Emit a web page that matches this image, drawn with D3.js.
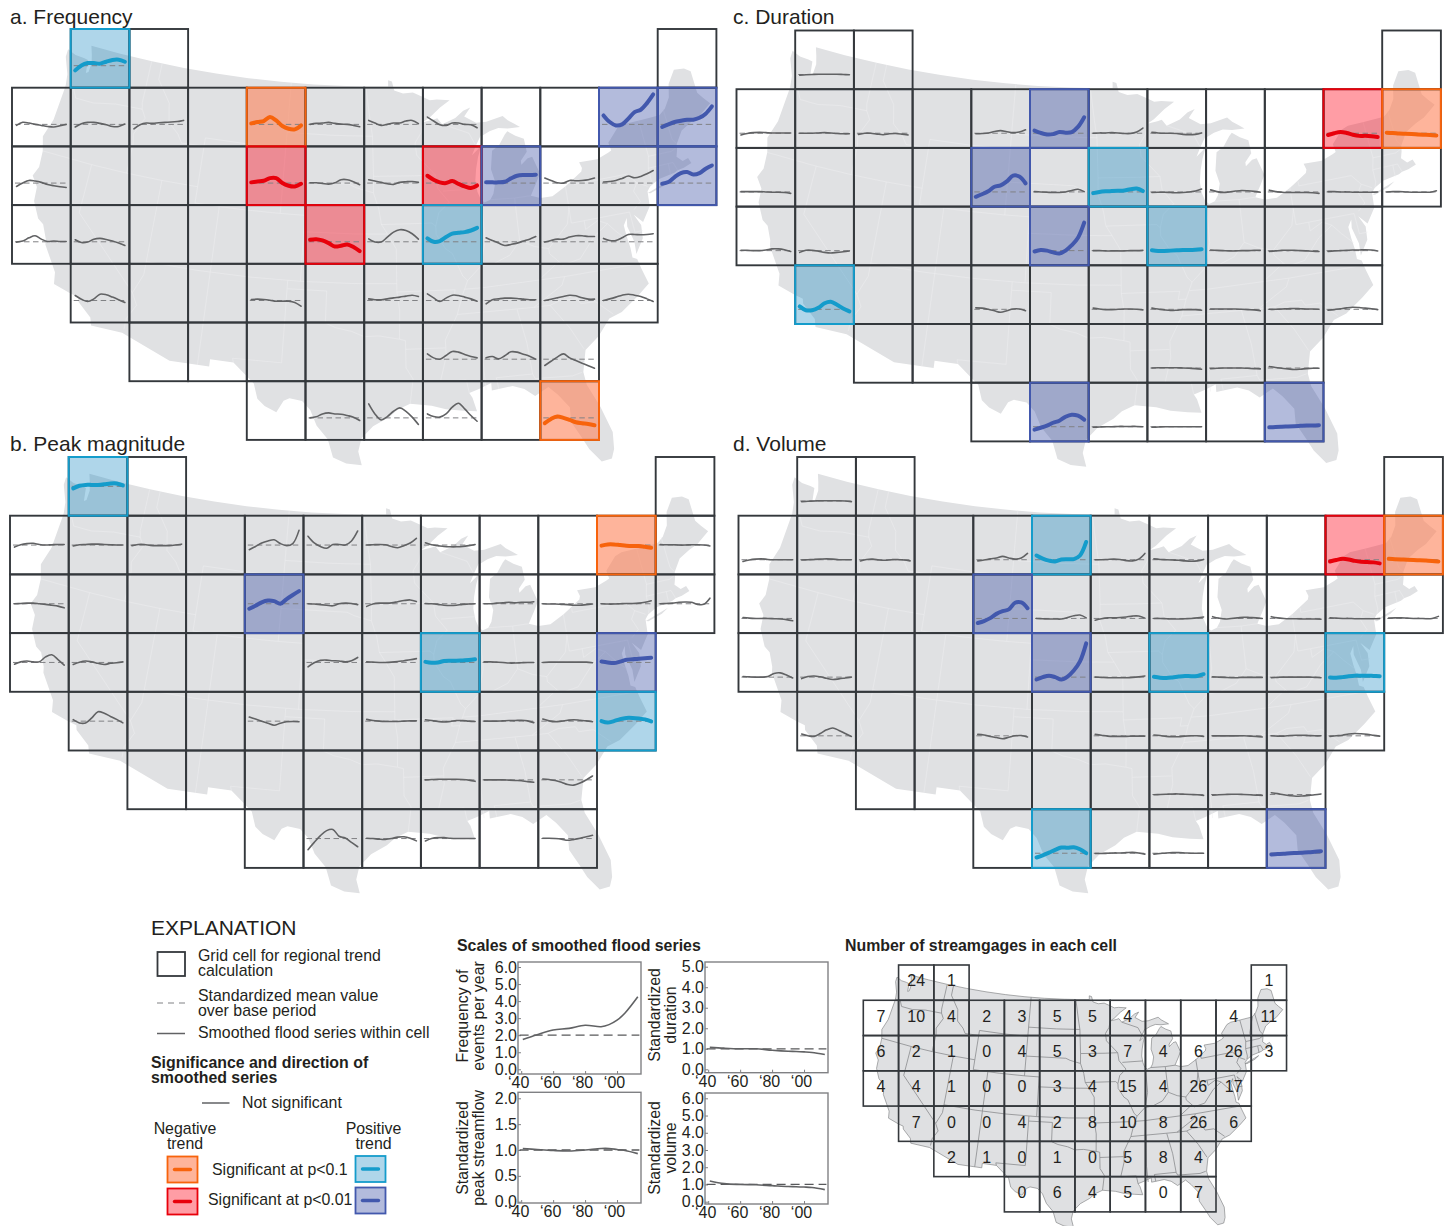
<!DOCTYPE html>
<html>
<head>
<meta charset="utf-8">
<script src="https://cdn.jsdelivr.net/npm/d3@7"></script>
<style>
body { margin: 0; background: #fff; }
svg { display: block; }
text { font-family: "Liberation Sans", Arial, sans-serif; fill: #231f20; }
</style>
</head>
<body>
<div id="content"></div>
<script>
// grid layout: which columns exist in each row
var gridRows = [
  [1, 2, 11],
  [0, 1, 2, 3, 4, 5, 6, 7, 8, 9, 10, 11],
  [0, 1, 2, 3, 4, 5, 6, 7, 8, 9, 10, 11],
  [0, 1, 2, 3, 4, 5, 6, 7, 8, 9, 10],
  [1, 2, 3, 4, 5, 6, 7, 8, 9, 10],
  [2, 3, 4, 5, 6, 7, 8, 9],
  [4, 5, 6, 7, 8, 9]
];

// number of streamgages, same order as gridRows (null = no label)
var gageCounts = [
  [24, 1, 1],
  [7, 10, 4, 2, 3, 5, 5, 4, null, null, 4, 11],
  [6, 2, 1, 0, 4, 5, 3, 7, 4, 6, 26, 3],
  [4, 4, 1, 0, 0, 3, 4, 15, 4, 26, 17],
  [7, 0, 0, 4, 2, 8, 10, 8, 26, 6],
  [2, 1, 0, 1, 0, 5, 8, 4],
  [0, 6, 4, 5, 0, 7]
];

// the sampled years of every small series
var seriesYears = [1941, 1950, 1959, 1968, 1977, 1986, 1995, 2004, 2013];

// a. Frequency (events per year)
var freqCells = ['0-1', '1-0', '1-1', '1-2', '1-4', '1-5', '1-6', '1-7', '1-10', '1-11',
  '2-0', '2-4', '2-5', '2-6', '2-7', '2-8', '2-9', '2-10', '2-11',
  '3-0', '3-1', '3-5', '3-6', '3-7', '3-8', '3-9', '3-10',
  '4-1', '4-4', '4-6', '4-7', '4-8', '4-9', '4-10',
  '5-7', '5-8', '5-9', '6-5', '6-6', '6-7', '6-9'];
var freqTrends = ['pos10', 'ns', 'ns', 'ns', 'neg10', 'ns', 'ns', 'ns', 'pos01', 'pos01',
  'ns', 'neg01', 'ns', 'ns', 'neg01', 'pos01', 'ns', 'ns', 'pos01',
  'ns', 'ns', 'neg01', 'ns', 'pos10', 'ns', 'ns', 'ns',
  'ns', 'ns', 'ns', 'ns', 'ns', 'ns', 'ns',
  'ns', 'ns', 'ns', 'ns', 'ns', 'ns', 'neg10'];
var freqSeries = [
  [1.68, 2.02, 2.18, 2.18, 2.14, 2.27, 2.39, 2.41, 2.27],
  [1.93, 2.14, 2.09, 2, 1.93, 1.86, 1.82, 1.91, 2],
  [1.82, 2.05, 2.14, 2.14, 2.07, 1.98, 1.86, 1.86, 2.02],
  [1.7, 1.98, 2.09, 2.07, 2.11, 2.14, 2.16, 2.2, 2.27],
  [2.07, 2.16, 2.23, 2.5, 2.27, 1.89, 1.7, 1.66, 1.93],
  [2, 2.07, 2.09, 2.14, 2.07, 2.02, 2, 1.93, 1.84],
  [2.27, 2.09, 1.93, 2, 2.09, 2.09, 2.23, 2.27, 2.05],
  [2.5, 2.23, 1.98, 1.93, 2.09, 2.09, 2, 1.98, 1.77],
  [2.61, 2.16, 1.93, 2, 2.39, 2.84, 3, 3.45, 4.04],
  [1.82, 2, 2.16, 2.25, 2.32, 2.32, 2.45, 2.73, 3.23],
  [1.77, 2, 2.18, 2.14, 2.05, 1.91, 1.82, 1.75, 1.7],
  [2.05, 2.11, 2.16, 2.34, 2.34, 2, 1.82, 1.77, 1.95],
  [2.02, 2.02, 1.98, 1.93, 2.02, 2.23, 2.23, 2.09, 1.89],
  [2.23, 2.14, 2.05, 1.95, 1.91, 2.05, 2.09, 2.11, 2.05],
  [2.5, 2.23, 2.05, 2, 2.14, 1.95, 1.77, 1.66, 1.84],
  [2.05, 2.05, 2.05, 2.09, 2.32, 2.5, 2.55, 2.55, 2.57],
  [2.34, 2.18, 2.02, 2, 2.18, 2.16, 2.18, 2.23, 2.34],
  [2.07, 2.11, 2.18, 2.32, 2.48, 2.36, 2.45, 2.64, 2.86],
  [1.95, 2.07, 2.41, 2.68, 2.75, 2.59, 2.68, 2.98, 3.2],
  [1.98, 2.05, 2.27, 2.41, 2.18, 2.02, 2.05, 2.02, 2.02],
  [2.14, 1.95, 1.98, 2.18, 2.23, 2.16, 2.05, 1.91, 1.75],
  [2.14, 2.18, 2.09, 1.91, 1.68, 1.73, 1.82, 1.64, 1.36],
  [2.2, 1.98, 1.98, 2.32, 2.66, 2.82, 2.77, 2.55, 2.18],
  [2.23, 2, 2.05, 2.32, 2.55, 2.61, 2.66, 2.77, 2.95],
  [2.27, 2.09, 1.91, 1.75, 1.82, 1.91, 2.05, 2.18, 2.36],
  [1.98, 2.09, 2.18, 2.18, 2.32, 2.41, 2.41, 2.36, 2.36],
  [2.23, 2.09, 2.09, 2.27, 2.5, 2.5, 2.48, 2.5, 2.55],
  [2.34, 2.09, 1.93, 2.11, 2.43, 2.39, 2.23, 2.05, 1.86],
  [2.07, 2.09, 2.07, 2.02, 1.95, 1.95, 1.95, 1.86, 1.61],
  [2.11, 2.05, 2.05, 2.11, 2.18, 2.23, 2.3, 2.36, 2.27],
  [2.45, 2.18, 1.93, 2.16, 2.36, 2.34, 2.23, 2.11, 1.95],
  [1.77, 2.05, 2.11, 2.16, 2.16, 2.14, 2.09, 2.05, 2.05],
  [2, 2.09, 2.18, 2.27, 2.36, 2.32, 2.18, 2.09, 2.09],
  [2, 2.11, 2.23, 2.36, 2.43, 2.36, 2.27, 2.11, 1.93],
  [2.36, 2.09, 2, 2.25, 2.52, 2.48, 2.32, 2.18, 2.09],
  [2.09, 2.18, 2.02, 2.23, 2.5, 2.48, 2.34, 2.2, 2],
  [1.57, 1.86, 2.14, 2.36, 2.09, 1.91, 1.73, 1.55, 1.39],
  [2, 2.07, 2.27, 2.34, 2.27, 2.25, 2.16, 2.05, 1.82],
  [2.95, 2.27, 1.86, 2.09, 2.45, 2.68, 2.45, 2.05, 1.55],
  [2.27, 2.09, 2.05, 2.27, 2.73, 3, 2.61, 2.16, 1.77],
  [1.64, 1.93, 2.09, 2, 1.86, 1.7, 1.64, 1.59, 1.5]
];

// b. Peak magnitude (standardized)
var peakCells = ['0-1', '1-0', '1-1', '1-2', '1-4', '1-5', '1-6', '1-7', '1-10', '1-11',
  '2-0', '2-4', '2-5', '2-6', '2-7', '2-8', '2-9', '2-10', '2-11',
  '3-0', '3-1', '3-5', '3-6', '3-7', '3-8', '3-9', '3-10',
  '4-1', '4-4', '4-6', '4-7', '4-8', '4-9', '4-10',
  '5-7', '5-8', '5-9', '6-5', '6-6', '6-7', '6-9'];
var peakTrends = ['pos10', 'ns', 'ns', 'ns', 'ns', 'ns', 'ns', 'ns', 'neg10', 'ns',
  'ns', 'pos01', 'ns', 'ns', 'ns', 'ns', 'ns', 'ns', 'ns',
  'ns', 'ns', 'ns', 'ns', 'pos10', 'ns', 'ns', 'pos01',
  'ns', 'ns', 'ns', 'ns', 'ns', 'ns', 'pos10',
  'ns', 'ns', 'ns', 'ns', 'ns', 'ns', 'ns'];
var peakSeries = [
  [.93, 1.02, 1.05, 1.05, 1.05, 1.07, 1.1, 1.1, 1.03],
  [.93, 1.01, 1.05, 1.06, 1.02, 1, 1.01, 1.02, 1.02],
  [.97, 1.01, 1.02, 1.03, 1.03, 1.02, 1.01, 1, 1],
  [.98, 1.02, 1.02, .99, .98, .98, .98, 1, 1.03],
  [.84, .95, 1.07, 1.14, 1.18, 1.05, .98, 1.05, 1.5],
  [1.3, 1.07, .95, .89, 1.02, 1.02, 1, 1.14, 1.48],
  [1, 1.01, 1.02, 1.01, .95, .91, .98, 1.07, 1.23],
  [1.08, 1.01, .98, .95, .94, .94, .95, .98, 1.02],
  [.98, 1.02, 1.02, 1, .98, .97, .97, .94, .91],
  [1.02, 1.01, 1.01, 1, 1, 1.01, 1.01, 1, .97],
  [1, 1.01, 1.02, 1.02, 1, .98, .95, .92, .86],
  [.83, .93, 1.05, 1.11, 1.09, 1, 1.16, 1.3, 1.43],
  [1, .99, .97, .95, .93, 1, 1.02, 1.01, .97],
  [.91, .99, 1.02, 1.02, 1.03, 1.07, 1.11, 1.13, 1.08],
  [1.01, 1, .98, .95, .94, .95, .98, .99, 1],
  [1, 1, 1.02, 1.03, 1.05, 1.03, 1.05, 1.05, 1.07],
  [1, .99, .99, .98, .97, .95, .95, .97, .99],
  [1, .99, .99, 1, 1.01, 1.01, 1.02, 1.05, 1.1],
  [1, 1.01, 1.02, 1.05, 1.06, 1.05, .98, .98, 1.19],
  [.94, 1.02, 1.05, 1.02, 1.02, 1.19, 1.26, 1.1, .91],
  [.93, 1.01, 1.05, 1.02, .97, .93, .97, .99, 1.02],
  [.85, .99, 1.07, 1.08, 1.06, 1.05, 1.02, 1.06, 1.17],
  [1.02, 1.01, 1, 1, 1.01, 1.03, 1.06, 1.09, 1.13],
  [1.02, .99, 1, 1.05, 1.06, 1.06, 1.07, 1.08, 1.11],
  [1.02, 1.02, 1.01, 1, .98, .98, .99, 1, 1],
  [1, 1.01, 1.01, 1.01, 1.01, 1.01, 1.01, 1.01, .99],
  [1.03, 1, .98, 1.03, 1.09, 1.11, 1.13, 1.14, 1.16],
  [1.05, .94, .94, 1.11, 1.32, 1.27, 1.16, 1.06, .94],
  [1.14, 1.07, 1, .93, .86, .93, .98, .99, .98],
  [1.06, 1.02, 1, .99, .99, .99, 1, 1.01, 1.01],
  [1.05, 1.02, .99, .97, .99, 1.02, 1.02, 1, .99],
  [1, 1, 1, 1.01, 1.02, 1.02, 1.03, 1.01, .95],
  [1.07, 1.01, .98, 1, 1.03, 1.05, 1.03, 1.01, .98],
  [1, .95, 1, 1.07, 1.11, 1.11, 1.09, 1.06, .99],
  [1, 1.01, 1.02, 1.02, 1.02, 1.02, 1.01, .99, .95],
  [1, 1, 1, 1, .99, .98, .97, .94, .92],
  [1.03, 1.01, .98, .92, .84, .82, .89, 1, 1.13],
  [.62, .87, 1.1, 1.27, 1.31, 1.08, 1.02, .87, .72],
  [1.01, 1, .98, .97, 1, 1.05, 1.06, 1.01, .92],
  [.92, 1, 1.03, 1.03, 1.01, 1, 1, 1, 1],
  [1.01, 1.01, 1, .98, .94, .97, 1.01, 1.06, 1.11]
];

// c. Duration (standardized)
var durCells = ['0-1', '1-0', '1-1', '1-2', '1-4', '1-5', '1-6', '1-7', '1-10', '1-11',
  '2-0', '2-4', '2-5', '2-6', '2-7', '2-8', '2-9', '2-10', '2-11',
  '3-0', '3-1', '3-5', '3-6', '3-7', '3-8', '3-9', '3-10',
  '4-1', '4-4', '4-6', '4-7', '4-8', '4-9', '4-10',
  '5-7', '5-8', '5-9', '6-5', '6-6', '6-7', '6-9'];
var durTrends = ['ns', 'ns', 'ns', 'ns', 'ns', 'pos01', 'ns', 'ns', 'neg01', 'neg10',
  'ns', 'pos01', 'ns', 'pos10', 'ns', 'ns', 'ns', 'ns', 'ns',
  'ns', 'ns', 'pos01', 'ns', 'pos10', 'ns', 'ns', 'ns',
  'pos10', 'ns', 'ns', 'ns', 'ns', 'ns', 'ns',
  'ns', 'ns', 'ns', 'pos01', 'ns', 'ns', 'pos01'];
var durSeries = [
  [.96, .98, 1, 1.02, 1.02, 1.02, 1.02, 1, .98],
  [.88, .98, 1.04, 1.06, 1.04, 1.02, 1.02, 1.02, 1.02],
  [1, 1, 1, 1.02, 1.04, 1.02, .98, .96, .96],
  [.92, 1, 1, .94, .9, .96, .98, .94, .88],
  [.96, .98, 1.02, 1.12, 1.18, 1.1, 1.04, 1.08, 1.23],
  [1.18, 1.02, .92, .94, 1.08, 1.04, 1.08, 1.43, 2.09],
  [1, 1.02, 1.02, 1.04, 1.02, .98, .98, 1.08, 1.35],
  [1.06, 1.02, 1, 1, .98, .92, .9, .92, 1.02],
  [.88, 1, 1.08, 1.02, .9, .82, .82, .8, .75],
  [1.04, 1.02, .98, .96, .94, .92, .9, .88, .84],
  [1.02, 1.02, 1.02, 1.02, 1, .98, .98, .96, .9],
  [.67, .84, 1.04, 1.35, 1.45, 1.72, 2.11, 2.05, 1.59],
  [1.02, 1, .98, .96, .96, 1, 1.1, 1.18, 1.02],
  [.92, 1, 1.04, 1.06, 1.08, 1.1, 1.18, 1.23, 1.06],
  [.96, .98, .98, .96, .94, .96, 1, 1.06, 1.2],
  [1.14, 1.02, .96, 1, 1.06, 1.1, 1.08, 1.04, .98],
  [1.12, 1.02, .98, .96, .96, .96, .96, .94, .9],
  [1.02, 1.02, 1, 1, .98, .98, .98, .98, 1],
  [1, 1.02, 1.02, 1, .98, .98, .98, .98, 1.08],
  [1.02, 1.02, 1, 1, 1.04, 1.12, 1.12, 1.06, .94],
  [.88, 1.02, 1.02, .96, .88, .84, .88, .92, .98],
  [.94, 1.04, 1, .88, .8, 1, 1.37, 1.88, 2.91],
  [1, 1, .98, .98, .98, .98, 1, 1, 1.02],
  [1.02, .98, .98, 1, 1.02, 1.04, 1.04, 1.06, 1.1],
  [1.04, 1.02, 1, .98, .98, 1, 1, 1.02, 1.02],
  [.94, .98, 1.02, 1.02, 1.02, 1, .98, .96, .94],
  [.94, .98, 1, 1.02, 1.04, 1.04, 1.06, 1.04, .98],
  [1.2, .94, .94, 1.1, 1.41, 1.51, 1.31, 1.06, .86],
  [1.1, 1.08, 1, .9, .8, .9, 1.02, 1.02, .9],
  [1.08, 1.02, .98, .98, 1, 1.02, 1.02, 1, .96],
  [1.08, 1.02, .96, .92, .94, .98, .98, .98, .94],
  [1.02, 1.02, 1.02, 1.02, 1.02, 1, .98, .96, .9],
  [1, 1, 1.02, 1.04, 1.06, 1.04, 1.02, 1.02, 1],
  [.94, .98, 1.04, 1.1, 1.14, 1.12, 1.08, 1.04, .98],
  [1, 1.02, 1.02, 1.02, 1.02, 1, .98, .96, .92],
  [.96, .98, 1, 1, 1, 1, .98, .96, .94],
  [1.1, 1.04, .98, .94, .9, .92, .96, .98, .98],
  [.8, .93, 1.07, 1.27, 1.41, 1.68, 1.82, 1.75, 1.48],
  [.96, .98, 1, 1, 1.02, 1.02, 1.02, 1.02, 1],
  [.96, .98, 1, 1, 1, 1, 1, 1, 1],
  [.96, .98, 1, 1.02, 1.04, 1.06, 1.08, 1.08, 1.1]
];

// d. Volume (standardized)
var volCells = ['0-1', '1-0', '1-1', '1-2', '1-4', '1-5', '1-6', '1-7', '1-10', '1-11',
  '2-0', '2-4', '2-5', '2-6', '2-7', '2-8', '2-9', '2-10', '2-11',
  '3-0', '3-1', '3-5', '3-6', '3-7', '3-8', '3-9', '3-10',
  '4-1', '4-4', '4-6', '4-7', '4-8', '4-9', '4-10',
  '5-7', '5-8', '5-9', '6-5', '6-6', '6-7', '6-9'];
var volTrends = ['ns', 'ns', 'ns', 'ns', 'ns', 'pos10', 'ns', 'ns', 'neg01', 'neg10',
  'ns', 'pos01', 'ns', 'ns', 'ns', 'ns', 'ns', 'ns', 'ns',
  'ns', 'ns', 'pos01', 'ns', 'pos10', 'ns', 'ns', 'pos10',
  'ns', 'ns', 'ns', 'ns', 'ns', 'ns', 'ns',
  'ns', 'ns', 'ns', 'pos10', 'ns', 'ns', 'pos01'];
var volSeries = [
  [.96, .98, 1, 1.02, 1.02, 1.02, 1.02, 1, .96],
  [.88, .98, 1.04, 1.06, 1.02, 1, 1, 1, 1],
  [.98, 1, 1.02, 1.04, 1.06, 1.04, 1, 1, 1],
  [.92, 1.02, 1.04, .98, .96, 1, 1.02, .98, .92],
  [.92, .98, 1.06, 1.12, 1.23, 1.12, 1.04, 1.12, 1.43],
  [1.29, 1.08, .94, .88, 1.02, 1.04, 1.04, 1.29, 2.21],
  [1, 1, 1.02, 1.04, 1.02, .94, .92, 1.04, 1.43],
  [1.06, 1.02, 1, .98, .96, .92, .9, .92, 1.02],
  [.88, .98, 1.06, 1.02, .92, .86, .84, .82, .75],
  [1.06, 1.04, 1.02, 1, .98, .96, .94, .92, .88],
  [1.06, 1.02, 1, 1, 1, .98, .96, .92, .84],
  [.69, .82, 1.02, 1.31, 1.49, 1.62, 2.07, 2.09, 1.7],
  [1, .98, .96, .96, .96, 1.06, 1.18, 1.23, 1.04],
  [.88, .98, 1.04, 1.04, 1.06, 1.1, 1.16, 1.16, 1.02],
  [1, 1, .98, .96, .96, .98, 1, 1.04, 1.1],
  [1.12, 1.02, .96, 1, 1.04, 1.08, 1.06, 1.04, 1],
  [1.12, 1.04, 1, .98, .98, .96, .96, .96, .94],
  [1.04, 1.02, 1, 1, .98, .98, .98, .98, 1],
  [1.02, 1.04, 1.04, 1.02, 1, 1, .98, 1, 1.14],
  [1.04, 1.02, 1, 1, 1.04, 1.25, 1.29, 1.14, .94],
  [.9, 1.04, 1.08, 1.02, .92, .84, .88, .94, 1],
  [.84, 1, 1.1, 1, .84, 1.04, 1.45, 2.07, 3.3],
  [1, .98, .96, .96, .96, .96, .98, 1.02, 1.08],
  [1.02, .96, .94, .98, 1.04, 1.08, 1.06, 1.08, 1.2],
  [1.02, 1, .98, .96, .96, .98, .98, .98, .98],
  [.96, .98, 1, 1, 1, 1, 1, .98, .96],
  [.98, .96, 1, 1.06, 1.1, 1.1, 1.1, 1.08, 1.06],
  [1.12, 1, .96, 1.16, 1.41, 1.53, 1.37, 1.16, .96],
  [1.1, 1.06, .96, .88, .8, .9, 1, 1.02, .92],
  [1.1, 1.04, .98, .96, .96, .96, .98, .98, .98],
  [1.06, 1.02, .96, .94, .94, .98, 1, 1, .96],
  [1, 1, 1, 1, 1, 1, .98, .96, .92],
  [1, .98, .98, 1.02, 1.04, 1.04, 1.02, 1, 1],
  [.96, 1, 1.04, 1.12, 1.16, 1.14, 1.1, 1.04, .98],
  [.98, 1, 1.02, 1.04, 1.04, 1.02, 1, .98, .94],
  [.96, .98, 1, 1.02, 1.02, 1, .98, .96, .94],
  [1.12, 1.06, .98, .92, .88, .9, .94, .98, 1.04],
  [.71, .86, 1.04, 1.23, 1.39, 1.37, 1.41, 1.27, 1],
  [.98, .98, 1, 1.02, 1.02, 1.04, 1.06, 1.02, .94],
  [.94, .98, 1.02, 1.04, 1.04, 1.02, 1, 1, 1],
  [.92, .94, .96, 1, 1.02, 1.04, 1.06, 1.1, 1.14]
];

// scale charts under "Scales of smoothed flood series"
var scaleYears = [1941, 1950, 1960, 1970, 1980, 1990, 1995, 2000, 2005, 2013];
var scaleFreq = [1.75, 2.03, 2.3, 2.4, 2.58, 2.5, 2.62, 2.88, 3.3, 4.25];
var scaleDur = [1.07, 1.03, 1, 1, .93, .88, .87, .85, .82, .72];
var scalePeak = [1.03, 1.01, .99, .98, 1, 1.03, 1.03, 1.01, .99, .93];
var scaleVol = [1.2, 1.05, 1, .98, .93, .88, .87, .85, .82, .7];
var scaleXTicks = [1940, 1960, 1980, 2000];

// lower 48 outline, lon/lat, clockwise from Cape Flattery
var usOutline = [
  [-124.7, 48.38], [-123.9, 48.17], [-123.1, 48.15], [-122.7, 48.1], [-122.55, 47.3], [-122.35, 47.4], [-122.3, 48], [-122.5, 48.5], [-122.75, 49],
  [-120, 49], [-117, 49], [-114, 49], [-111, 49], [-108, 49], [-105, 49], [-102, 49], [-99, 49], [-97.2, 49], [-95.15, 49], [-95.15, 49.38],
  [-94.8, 49.3], [-94.6, 48.75], [-93.8, 48.55], [-92.9, 48.6], [-92, 48.3], [-91.4, 48.07], [-90.75, 48.1], [-89.6, 48],
  [-90.5, 47.6], [-91.5, 47], [-92.1, 46.75], [-91.2, 46.87], [-90.8, 46.95], [-90.4, 46.57], [-89.2, 46.9], [-88.45, 47.3], [-87.8, 47.47],
  [-88.4, 46.95], [-87.4, 46.5], [-86.5, 46.5], [-85, 46.75], [-84.6, 46.45], [-84.1, 46.2], [-83.6, 45.95], [-84.7, 45.95], [-85.5, 46.05],
  [-86.3, 45.9], [-86.9, 45.7], [-87.1, 45.7], [-87.6, 45.1], [-88, 44.55], [-87.4, 44.9], [-87.05, 45.25], [-87.5, 44.4], [-87.75, 43.7],
  [-87.9, 43], [-87.8, 42.3], [-87.6, 41.85], [-87.3, 41.62], [-86.8, 41.75], [-86.5, 42.1], [-86.25, 42.8], [-86.5, 43.6], [-86.25, 44.7],
  [-85.6, 45], [-85, 45.6], [-84.75, 45.78], [-84.1, 45.45], [-83.4, 45.2], [-83.3, 44.4], [-83.9, 43.9], [-83.9, 43.65], [-83.3, 44], [-82.9, 44.05],
  [-82.45, 43], [-82.9, 42.4], [-83.15, 42.1], [-83.45, 41.72], [-82.7, 41.5], [-81.7, 41.5], [-80.5, 41.97], [-79, 42.7], [-78.9, 42.9], [-79.05, 43.27],
  [-77.5, 43.25], [-76.5, 43.5], [-76.2, 43.6], [-76.3, 44.1], [-75.3, 44.85], [-74.7, 45], [-73.3, 45], [-71.5, 45], [-70.9, 45.3], [-70.3, 45.9],
  [-70, 46.7], [-69.2, 47.45], [-68.3, 47.35], [-67.8, 47.07], [-67.8, 45.7], [-67.45, 45.3], [-67, 44.85], [-68.2, 44.3], [-69, 44.1], [-70, 43.75],
  [-70.7, 43.05], [-70.8, 42.7], [-71, 42.3], [-70.6, 41.95], [-70.1, 42.05], [-69.95, 41.7], [-70.65, 41.55], [-71.2, 41.5], [-71.5, 41.4], [-72.9, 41.25],
  [-73.7, 40.95], [-74, 40.7], [-74.1, 39.8], [-74.9, 38.95], [-75.5, 39.5], [-75.1, 38.8], [-75.2, 38], [-75.95, 37.15], [-75.9, 37.9], [-76.2, 38.9],
  [-76.1, 39.4], [-76.45, 39], [-76.4, 38.3], [-76.3, 37.6], [-76.3, 37], [-75.97, 36.85], [-75.8, 36.2], [-75.5, 35.25], [-76.5, 34.65], [-77.9, 33.9],
  [-78.9, 33.65], [-79.9, 32.7], [-81, 32], [-81.4, 30.7], [-81.3, 29.9], [-80.6, 28.45], [-80.05, 26.8], [-80.15, 25.75], [-80.4, 25.2], [-81.1, 25.12],
  [-81.8, 26], [-82.2, 26.8], [-82.75, 27.8], [-82.7, 28.7], [-83.4, 29.55], [-84, 30.1], [-85, 29.65], [-85.7, 30.15], [-86.5, 30.4], [-88, 30.25],
  [-88, 30.7], [-88.9, 30.4], [-89.6, 30.2], [-89.4, 29.9], [-89.15, 29.05], [-90.1, 29.15], [-91.3, 29.3], [-92.3, 29.55], [-93.8, 29.7], [-94.7, 29.35],
  [-95.3, 28.9], [-96.4, 28.35], [-97.2, 27.6], [-97.4, 26.8], [-97.15, 25.95], [-98.2, 26.05], [-99.1, 26.4], [-99.5, 27.5], [-100.3, 28.3], [-100.8, 29.25],
  [-101.4, 29.77], [-102.3, 29.88], [-102.7, 29.7], [-103.15, 28.98], [-104, 29.3], [-104.55, 29.7], [-104.9, 30.6], [-106.5, 31.75], [-108.2, 31.78], [-108.2, 31.33],
  [-111.07, 31.33], [-114.8, 32.5], [-117.12, 32.53], [-117.3, 33], [-118.4, 33.75], [-118.5, 34.03], [-119.2, 34.15], [-120.5, 34.45], [-120.65, 35.15], [-121.9, 36.6],
  [-122, 36.95], [-122.5, 37.75], [-123, 38], [-123.7, 38.95], [-123.8, 39.8], [-124.4, 40.4], [-124.1, 41], [-124.2, 42], [-124.55, 42.85], [-124.1, 44],
  [-123.95, 46.2], [-124.1, 46.9], [-124.7, 47.9], [-124.7, 48.38]
];
var longIsland = [[-74, 40.6], [-72, 41.05], [-72.6, 40.8], [-73.8, 40.55], [-74, 40.6]];

// state boundaries, rough
var stateLines = [
  [[-124, 46.2], [-123.2, 46.15], [-122.8, 45.65], [-121.2, 45.65], [-119.3, 45.93], [-116.92, 46]],
  [[-117.03, 49], [-117.04, 46.4], [-116.92, 46], [-116.5, 45.5], [-117.2, 44.4], [-117.03, 43.8], [-117.03, 42]],
  [[-124.2, 42], [-120, 42], [-117.03, 42], [-114.05, 42], [-111.05, 42]],
  [[-120, 42], [-120, 39], [-114.63, 35], [-114.15, 34.3], [-114.7, 33.4], [-114.72, 32.72]],
  [[-114.63, 35], [-114.05, 36.2], [-114.05, 42]],
  [[-116.05, 49], [-116.05, 48], [-114.7, 46.7], [-114.4, 45.55], [-113.45, 44.95], [-113, 44.45], [-111.05, 44.5]],
  [[-111.05, 45], [-107.5, 45], [-104.05, 45]],
  [[-111.05, 45], [-111.05, 41], [-107.5, 41], [-104.05, 41], [-102.05, 41]],
  [[-109.05, 41], [-109.05, 37], [-109.05, 31.33]],
  [[-114.05, 37], [-110, 37], [-106, 37], [-102.04, 37], [-98, 37], [-94.62, 37]],
  [[-102.05, 41], [-102.05, 37]],
  [[-103.04, 37], [-103.04, 32], [-106.6, 32], [-106.5, 31.75]],
  [[-103, 36.5], [-100, 36.5], [-100, 34.56], [-99.2, 34.3], [-98, 34.1], [-97.1, 33.8], [-96, 33.85], [-94.48, 33.64]],
  [[-102.05, 40], [-98, 40], [-95.3, 40]],
  [[-104.05, 43], [-98.5, 43], [-97.9, 42.8], [-96.45, 42.5]],
  [[-104.05, 45.94], [-100, 45.94], [-96.56, 45.94]],
  [[-104.05, 49], [-104.05, 41]],
  [[-97.2, 49], [-96.8, 47], [-96.56, 45.94], [-96.45, 43.5], [-96.45, 42.5], [-96, 41.5], [-95.8, 40.6], [-95.3, 40], [-94.62, 39.1], [-94.62, 36.5]],
  [[-96.45, 43.5], [-93, 43.5], [-91.22, 43.5]],
  [[-95.8, 40.58], [-91.7, 40.6], [-91.4, 40.4]],
  [[-92.1, 46.75], [-92.3, 46.1], [-92.85, 45.5], [-92.75, 44.75], [-91.22, 43.5], [-91.1, 42.7], [-90.2, 41.8], [-91.1, 41.2], [-91.4, 40.4], [-91.4, 39.9], [-90.7, 39], [-90.2, 38.7], [-89.5, 37.3], [-89.15, 37], [-89.7, 36], [-90.1, 35], [-91.1, 33.5], [-91.1, 32.5], [-91.6, 31], [-89.75, 31], [-89.6, 30.2]],
  [[-94.04, 33.02], [-94.04, 31.9], [-93.55, 31.2], [-93.8, 29.7]],
  [[-94.04, 33.02], [-91.15, 33.02]],
  [[-94.48, 33.64], [-94.04, 33.55], [-94.04, 33.02]],
  [[-94.48, 33.64], [-94.43, 35.4], [-94.62, 36.5], [-90.15, 36.5], [-90.3, 36], [-89.7, 36]],
  [[-90.4, 46.57], [-88.1, 45.9], [-87.6, 45.1]],
  [[-90.65, 42.5], [-87.8, 42.5]],
  [[-87.53, 41.7], [-87.53, 39.3], [-88.05, 37.8]],
  [[-84.8, 41.7], [-84.8, 39.1]],
  [[-86.8, 41.76], [-84.8, 41.7], [-83.45, 41.72]],
  [[-89.15, 37], [-88.05, 37.8], [-87, 37.9], [-85.7, 38.3], [-84.8, 39.1], [-83.7, 38.65], [-82.6, 38.4], [-81.8, 39], [-80.85, 39.7], [-80.52, 40.64], [-80.52, 42]],
  [[-79.76, 42.27], [-79.76, 42], [-75.35, 42], [-74.7, 41.36], [-73.9, 41]],
  [[-80.52, 39.72], [-75.78, 39.72]],
  [[-80.52, 39.72], [-80.52, 40.64]],
  [[-74.7, 41.36], [-75.1, 40.9], [-74.75, 40.2], [-75.4, 39.8]],
  [[-75.78, 39.72], [-75.7, 38.46], [-75.05, 38.45]],
  [[-76.3, 38], [-77.1, 38.7], [-77.7, 39.3], [-78.4, 39.6], [-79.48, 39.2], [-79.48, 39.72]],
  [[-77.7, 39.3], [-78.9, 38.7], [-80.3, 37.5], [-81.7, 37.3], [-82.6, 38.1], [-82.6, 38.4]],
  [[-81.97, 37.54], [-83.68, 36.6]],
  [[-75.9, 36.55], [-81.7, 36.59], [-83.68, 36.6], [-88.07, 36.5], [-89.4, 36.5]],
  [[-81.7, 36.59], [-82, 36.1], [-84.32, 35]],
  [[-90.1, 35], [-84.32, 35], [-83.1, 35], [-82.3, 35.2], [-81, 35.15], [-80.8, 34.82], [-79.7, 34.8], [-78.55, 33.86]],
  [[-83.1, 35], [-81.9, 33.5], [-81.1, 32.1]],
  [[-81.5, 30.7], [-82.2, 30.57], [-84.86, 30.7]],
  [[-85.6, 35], [-85.15, 32.9], [-85, 31], [-84.86, 30.7]],
  [[-85, 31], [-87.6, 31], [-87.5, 30.3]],
  [[-88.2, 35], [-88.45, 31.9], [-88.4, 30.3]],
  [[-73.35, 45], [-73.25, 42.75], [-73.5, 42.05], [-73.5, 41.3], [-73.65, 41]],
  [[-71.5, 45], [-72.4, 43.5], [-72.46, 42.73]],
  [[-73.5, 42.05], [-71.4, 42.02], [-71.2, 41.5]],
  [[-73.27, 42.75], [-71.3, 42.7], [-70.8, 42.85]],
  [[-71.8, 42.02], [-71.85, 41.32]],
  [[-71.05, 45.3], [-70.98, 43.4], [-70.7, 43.05]]
];

var trendFill = { neg10: 'rgb(253,130,88)', neg01: 'rgb(255,10,30)', pos10: 'rgb(12,130,190)', pos01: 'rgb(50,71,161)' };
var trendOpacity = { neg10: 0.6, neg01: 0.4, pos10: 0.33, pos01: 0.37 };
var trendLine = { neg10: '#f7630c', neg01: '#e8000b', pos10: '#149ccb', pos01: '#4258ad' };
var gridColor = '#34383c';
var landColor = '#e0e1e3';
var seriesColor = '#616264';

var svg = d3.select('#content').append('svg').attr('width', 1449).attr('height', 1226);

var landShape = { type: 'MultiPolygon', coordinates: [[usOutline], [longIsland]] };
var stateShape = { type: 'MultiLineString', coordinates: stateLines };

// same projection everywhere, only the size and origin of the grid change
function makePath(x0, y0, cell) {
  var projection = d3.geoConicEqualArea()
    .parallels([29.5, 45.5])
    .rotate([96, 0])
    .center([0, 0])
    .scale(16 * cell)
    .translate([x0 + 6.25 * cell, y0 + 14.2 * cell]);
  return d3.geoPath(projection);
}

function drawPanel(title, x0, y0, titleX, titleY, cells, trends, series, domain, mean) {
  var cell = 58.7;
  var g = svg.append('g');
  var path = makePath(x0, y0, cell);

  g.append('path').datum(landShape).attr('d', path).attr('fill', landColor);
  g.append('path').datum(stateShape).attr('d', path).attr('fill', 'none')
    .attr('stroke', '#eeeff0').attr('stroke-width', 0.5);

  var colX = d3.scaleLinear().domain([0, 12]).range([x0, x0 + 12 * cell]);
  var rowY = d3.scaleLinear().domain([0, 7]).range([y0, y0 + 7 * cell]);

  var rows = cells.map(function(c, i) {
    var p = c.split('-');
    return { row: +p[0], col: +p[1], trend: trends[i], values: series[i] };
  });

  // tinted cells go under the grid
  g.selectAll('rect.fill').data(rows.filter(function(d) { return d.trend !== 'ns'; }))
    .enter().append('rect')
    .attr('x', function(d) { return colX(d.col); })
    .attr('y', function(d) { return rowY(d.row); })
    .attr('width', cell).attr('height', cell)
    .attr('fill', function(d) { return trendFill[d.trend]; })
    .attr('fill-opacity', function(d) { return trendOpacity[d.trend]; });

  gridRows.forEach(function(cols, r) {
    g.selectAll('rect.grid' + r).data(cols).enter().append('rect')
      .attr('x', function(c) { return colX(c); })
      .attr('y', rowY(r))
      .attr('width', cell).attr('height', cell)
      .attr('fill', 'none')
      .attr('stroke', gridColor).attr('stroke-width', 1.9);
  });

  g.selectAll('rect.edge').data(rows.filter(function(d) { return d.trend !== 'ns'; }))
    .enter().append('rect')
    .attr('x', function(d) { return colX(d.col); })
    .attr('y', function(d) { return rowY(d.row); })
    .attr('width', cell).attr('height', cell)
    .attr('fill', 'none')
    .attr('stroke', function(d) { return trendLine[d.trend]; })
    .attr('stroke-width', 2);

  rows.forEach(function(d) {
    var x = d3.scaleLinear().domain([seriesYears[0], seriesYears[8]])
      .range([colX(d.col) + 4.5, colX(d.col) + cell - 4.5]);
    var y = d3.scaleLinear().domain(domain).range([rowY(d.row) + cell, rowY(d.row)]);
    g.append('line')
      .attr('x1', colX(d.col) + 3).attr('x2', colX(d.col) + cell - 2)
      .attr('y1', y(mean)).attr('y2', y(mean))
      .attr('stroke', '#808184').attr('stroke-width', 1).attr('stroke-dasharray', '5.5,3.5');
    var line = d3.line()
      .x(function(v, i) { return x(seriesYears[i]); })
      .y(function(v) { return y(v); })
      .curve(d3.curveCatmullRom.alpha(0.5));
    g.append('path').attr('d', line(d.values)).attr('fill', 'none')
      .attr('stroke', d.trend === 'ns' ? seriesColor : trendLine[d.trend])
      .attr('stroke-width', d.trend === 'ns' ? 1.6 : 4)
      .attr('stroke-linecap', 'round').attr('stroke-linejoin', 'round');
  });

  svg.append('text').attr('x', titleX).attr('y', titleY).attr('font-size', 21).text(title);
}

drawPanel('a. Frequency', 12, 29, 10, 24, freqCells, freqTrends, freqSeries, [0.5, 4.5], 2);
drawPanel('b. Peak magnitude', 10, 457, 10, 451, peakCells, peakTrends, peakSeries, [0, 2], 1);
drawPanel('c. Duration', 736.5, 30.5, 733, 24, durCells, durTrends, durSeries, [0, 4], 1);
drawPanel('d. Volume', 738.5, 457, 733, 451, volCells, volTrends, volSeries, [0, 4], 1);

// explanation block
var legend = svg.append('g');
function label(x, y, str, size, bold, anchor) {
  legend.append('text').attr('x', x).attr('y', y).attr('font-size', size)
    .attr('font-weight', bold ? 'bold' : null)
    .attr('text-anchor', anchor || 'start').text(str);
}
label(151, 935, 'EXPLANATION', 21);
legend.append('rect').attr('x', 157.5).attr('y', 952).attr('width', 27.5).attr('height', 24)
  .attr('fill', 'none').attr('stroke', gridColor).attr('stroke-width', 1.8);
label(198, 961, 'Grid cell for regional trend', 15.9);
label(198, 976, 'calculation', 15.9);
legend.append('line').attr('x1', 157).attr('x2', 185).attr('y1', 1003).attr('y2', 1003)
  .attr('stroke', '#808184').attr('stroke-width', 1).attr('stroke-dasharray', '6,5');
label(198, 1001, 'Standardized mean value', 15.9);
label(198, 1016, 'over base period', 15.9);
legend.append('line').attr('x1', 157).attr('x2', 185).attr('y1', 1033.5).attr('y2', 1033.5)
  .attr('stroke', seriesColor).attr('stroke-width', 1.5);
label(198, 1038, 'Smoothed flood series within cell', 15.9);
label(151, 1068, 'Significance and direction of', 15.9, true);
label(151, 1083, 'smoothed series', 15.9, true);
legend.append('line').attr('x1', 202).attr('x2', 229.5).attr('y1', 1103).attr('y2', 1103)
  .attr('stroke', seriesColor).attr('stroke-width', 1.5);
label(242, 1108, 'Not significant', 15.9);
label(185, 1134, 'Negative', 15.9, false, 'middle');
label(185, 1149, 'trend', 15.9, false, 'middle');
label(373.5, 1134, 'Positive', 15.9, false, 'middle');
label(373.5, 1149, 'trend', 15.9, false, 'middle');
label(212, 1175, 'Significant at p<0.1', 15.9);
label(208, 1205, 'Significant at p<0.01', 15.9);

var swatches = [
  { x: 167.5, y: 1156.5, trend: 'neg10' },
  { x: 167.5, y: 1188.5, trend: 'neg01' },
  { x: 355.5, y: 1156, trend: 'pos10' },
  { x: 355.5, y: 1187.5, trend: 'pos01' }
];
swatches.forEach(function(s) {
  legend.append('rect').attr('x', s.x).attr('y', s.y).attr('width', 30).attr('height', 26)
    .attr('fill', trendFill[s.trend]).attr('fill-opacity', trendOpacity[s.trend])
    .attr('stroke', trendLine[s.trend]).attr('stroke-width', 1.8);
  legend.append('line').attr('x1', s.x + 7).attr('x2', s.x + 23)
    .attr('y1', s.y + 13).attr('y2', s.y + 13)
    .attr('stroke', trendLine[s.trend]).attr('stroke-width', 3.4).attr('stroke-linecap', 'round');
});

// small scale charts
label(457, 951, 'Scales of smoothed flood series', 15.9, true);

function drawScale(left, top, right, bottom, yTop, yBottom, maxY, ticks, mean, values, lines, labelX, labelY) {
  var g = svg.append('g');
  var x = d3.scaleLinear().domain([1938, 2015]).range([left, right]);
  var y = d3.scaleLinear().domain([0, maxY]).range([yBottom, yTop]);

  g.append('rect').attr('x', left).attr('y', top)
    .attr('width', right - left).attr('height', bottom - top)
    .attr('fill', '#fff').attr('stroke', '#808184').attr('stroke-width', 1.4);

  var yAxis = d3.axisLeft(y).tickValues(ticks).tickFormat(d3.format('.1f'))
    .tickSizeInner(-3).tickSizeOuter(0).tickPadding(1);
  var xAxis = d3.axisBottom(x).tickValues(scaleXTicks)
    .tickFormat(function(d) { return '\u2018' + d3.format('02')(d % 100); })
    .tickSizeInner(-3).tickSizeOuter(0).tickPadding(3);

  var ya = g.append('g').attr('transform', 'translate(' + left + ',0)').call(yAxis);
  var xa = g.append('g').attr('transform', 'translate(0,' + bottom + ')').call(xAxis);
  [ya, xa].forEach(function(a) {
    a.select('.domain').remove();
    a.selectAll('line').attr('stroke', '#808184');
    a.selectAll('text').attr('font-size', 16).attr('font-family', '"Liberation Sans", Arial, sans-serif').attr('fill', '#231f20');
  });
  xa.selectAll('text').attr('dx', -3);

  g.append('line').attr('x1', x(1939)).attr('x2', x(2014))
    .attr('y1', y(mean)).attr('y2', y(mean))
    .attr('stroke', '#58595b').attr('stroke-width', 1.3).attr('stroke-dasharray', '9,5');
  var line = d3.line()
    .x(function(v, i) { return x(scaleYears[i]); })
    .y(function(v) { return y(v); })
    .curve(d3.curveCatmullRom.alpha(0.5));
  g.append('path').attr('d', line(values)).attr('fill', 'none')
    .attr('stroke', seriesColor).attr('stroke-width', 1.6);

  lines.forEach(function(str, i) {
    g.append('text')
      .attr('transform', 'translate(' + (labelX + i * 16) + ',' + labelY + ') rotate(-90)')
      .attr('text-anchor', 'middle').attr('font-size', 15.9).text(str);
  });
}

drawScale(518, 962, 641, 1074, 967, 1069.3, 6, [0, 1, 2, 3, 4, 5, 6], 2, scaleFreq, ['Frequency of', 'events per year'], 468, 1016);
drawScale(705, 962, 828, 1072.7, 966.7, 1069.3, 5, [0, 1, 2, 3, 4, 5], 1, scaleDur, ['Standardized', 'duration'], 660, 1015);
drawScale(518, 1092.3, 641, 1203, 1098.3, 1201.7, 2, [0, 0.5, 1, 1.5, 2], 1, scalePeak, ['Standardized', 'peak streamflow'], 468, 1148);
drawScale(705, 1093, 828, 1204, 1098.3, 1201.7, 6, [0, 1, 2, 3, 4, 5, 6], 1, scaleVol, ['Standardized', 'volume'], 660, 1148);

// streamgage count map
label(845, 951, 'Number of streamgages in each cell', 15.9, true);
(function() {
  var x0 = 863.3, y0 = 965, cell = 35.27;
  var g = svg.append('g');
  var path = makePath(x0, y0, cell);
  var colX = d3.scaleLinear().domain([0, 12]).range([x0, x0 + 12 * cell]);
  var rowY = d3.scaleLinear().domain([0, 7]).range([y0, y0 + 7 * cell]);

  g.append('path').datum(landShape).attr('d', path)
    .attr('fill', '#dfe0e2').attr('stroke', '#77787b').attr('stroke-width', 0.6);
  g.append('path').datum(stateShape).attr('d', path).attr('fill', 'none')
    .attr('stroke', '#8a8b8e').attr('stroke-width', 0.8);

  gridRows.forEach(function(cols, r) {
    g.selectAll('rect.grid' + r).data(cols).enter().append('rect')
      .attr('x', function(c) { return colX(c); })
      .attr('y', rowY(r))
      .attr('width', cell).attr('height', cell)
      .attr('fill', 'none')
      .attr('stroke', gridColor).attr('stroke-width', 1.6);
    g.selectAll('text.count' + r).data(cols).enter().append('text')
      .attr('x', function(c) { return colX(c) + cell / 2; })
      .attr('y', rowY(r) + cell / 2 + 3.8)
      .attr('text-anchor', 'middle').attr('font-size', 16)
      .text(function(c, i) { return gageCounts[r][i]; });
  });
})();
</script>
</body>
</html>
